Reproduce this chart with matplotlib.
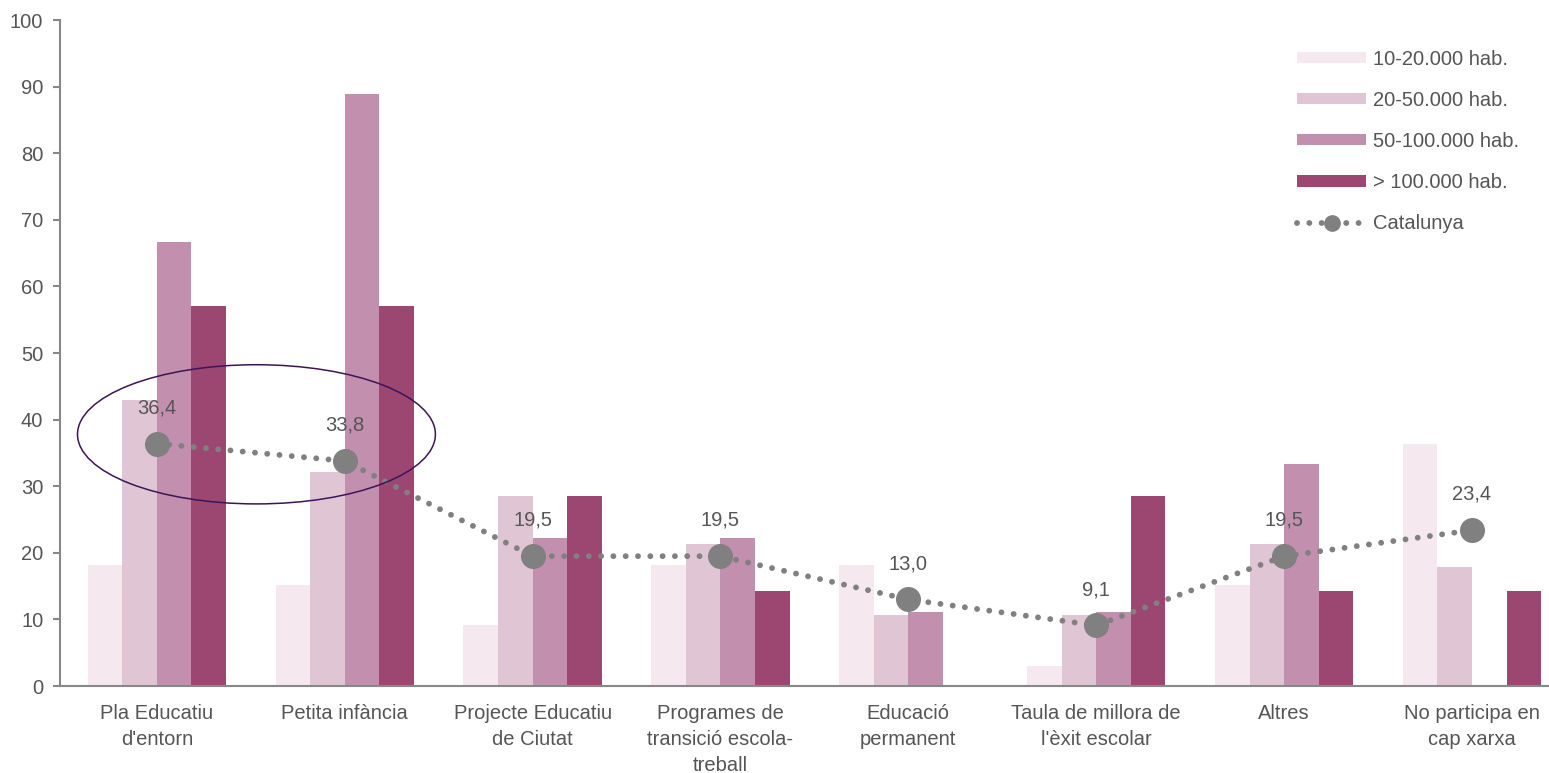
import numpy as np
import matplotlib.pyplot as plt
from matplotlib.patches import Ellipse
from matplotlib.lines import Line2D

plt.rcParams['font.family'] = ['Liberation Sans', 'DejaVu Sans']

categories = ["Pla Educatiu\nd'entorn", "Petita infància", "Projecte Educatiu\nde Ciutat",
              "Programes de\ntransició escola-\ntreball", "Educació\npermanent",
              "Taula de millora de\nl'èxit escolar", "Altres", "No participa en\ncap xarxa"]
series_names = ["10-20.000 hab.", "20-50.000 hab.", "50-100.000 hab.", "> 100.000 hab."]
s1 = [18.2, 15.2, 9.1, 18.2, 18.2, 3.0, 15.2, 36.4]
s2 = [42.9, 32.1, 28.6, 21.4, 10.7, 10.7, 21.4, 17.9]
s3 = [66.7, 88.9, 22.2, 22.2, 11.1, 11.1, 33.3, 0]
s4 = [57.1, 57.1, 28.6, 14.3, 0, 28.6, 14.3, 14.3]
catalunya = [36.4, 33.8, 19.5, 19.5, 13.0, 9.1, 19.5, 23.4]
colors = ['#F5E9EF', '#E0C6D4', '#C38FAE', '#9B4772']

txt = '#555555'
fs = 14.5
fig = plt.figure(figsize=(15.49, 7.73), dpi=100)
ax = fig.add_axes([0.0387, 0.1125, 0.9613, 0.8615])

x = np.arange(len(categories))
w = 0.184
for i, vals in enumerate([s1, s2, s3, s4]):
    ax.bar(x + (i - 1.5) * w, vals, width=w, color=colors[i], label=series_names[i], zorder=2)

ax.plot(x, catalunya, color='#808080', lw=4.2, linestyle=(0, (0.01, 2.1)),
        dash_capstyle='round', marker='o', markersize=17, zorder=4)
for xi, v in zip(x, catalunya):
    ax.annotate(f"{v:.1f}".replace('.', ','), (xi, v), xytext=(0, 19), textcoords='offset points',
                ha='center', va='bottom', fontsize=fs, color=txt, zorder=5)

ax.add_patch(Ellipse((0.53, 37.8), 1.905, 20.9, fill=False, edgecolor='#3D1458', lw=1.1, zorder=6))

ax.set_xlim(-0.516, 7.41)
ax.set_ylim(0, 100)
ax.set_yticks(range(0, 101, 10))
ax.set_xticks(x)
ax.set_xticklabels(categories, fontsize=fs, color=txt, linespacing=1.45)
ax.tick_params(axis='x', length=0, pad=13)
ax.tick_params(axis='y', labelsize=fs, labelcolor=txt, color='#888888', width=1.5, length=5, pad=7)
for s in ['top', 'right']:
    ax.spines[s].set_visible(False)
for s in ['left', 'bottom']:
    ax.spines[s].set_color('#888888')
    ax.spines[s].set_linewidth(1.5)

handles, labels = ax.get_legend_handles_labels()
cat_handle = Line2D([], [], color='#808080', lw=4.2, linestyle=(0, (0.01, 2.1)),
                    dash_capstyle='round', marker='o', markersize=11)
leg = ax.legend(handles[:4] + [cat_handle], labels[:4] + ['Catalunya'],
                loc='upper right', bbox_to_anchor=(0.992, 0.983), frameon=False,
                fontsize=fs, handlelength=3.4, handleheight=0.5, labelspacing=1.1,
                handletextpad=0.35)
for t in leg.get_texts():
    t.set_color(txt)

fig.savefig('out.png', dpi=100)
